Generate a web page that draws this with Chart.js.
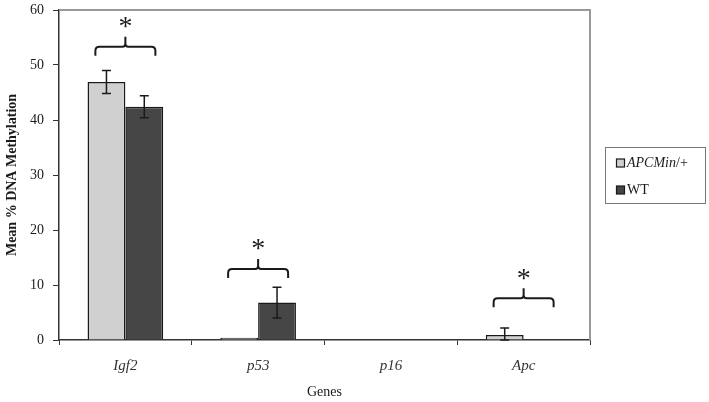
<!DOCTYPE html>
<html>
<head>
<meta charset="utf-8">
<script src="https://cdn.jsdelivr.net/npm/chart.js@4.4.1/dist/chart.umd.min.js"></script>
<style>
  html, body { margin: 0; padding: 0; background: #fff; }
  #wrap { position: relative; width: 709px; height: 402px; }
</style>
</head>
<body>
<div id="wrap"><canvas id="chart" width="709" height="402"></canvas></div>
<script>
// данные
const genes = ['Igf2', 'p53', 'p16', 'Apc'];
const apcMinValues = [46.9, 0.4, 0, 0.9];
const apcMinErrors = [2.1, 0, 0, 1.3];
const wtValues = [42.4, 6.8, 0, 0];
const wtErrors = [2.0, 2.8, 0, 0];
const yTicks = [0, 10, 20, 30, 40, 50, 60];

// скобки значимости: индекс гена и уровень скобки
const bracketGenes = [0, 1, 3];
const bracketLevels = [53.3, 12.9, 7.6];

const serif = '"Liberation Serif", "DejaVu Serif", serif';
const ink = '#1a1a1a';

// усы ошибок
const errorBars = {
  id: 'errorBars',
  afterDatasetsDraw(chart) {
    const ctx = chart.ctx;
    const y = chart.scales.y;
    ctx.save();
    ctx.strokeStyle = ink;
    ctx.lineWidth = 1.5;
    chart.data.datasets.forEach((ds, di) => {
      const meta = chart.getDatasetMeta(di);
      meta.data.forEach((bar, i) => {
        const err = ds.errors[i];
        if (!err) return;
        const v = ds.data[i];
        const top = y.getPixelForValue(v + err);
        const bot = y.getPixelForValue(Math.max(0, v - err));
        ctx.beginPath();
        ctx.moveTo(bar.x, top); ctx.lineTo(bar.x, bot);
        ctx.moveTo(bar.x - 4.5, top); ctx.lineTo(bar.x + 4.5, top);
        ctx.moveTo(bar.x - 4.5, bot); ctx.lineTo(bar.x + 4.5, bot);
        ctx.stroke();
      });
    });
    ctx.restore();
  }
};

// фигурные скобки со звёздочкой
const brackets = {
  id: 'brackets',
  afterDatasetsDraw(chart) {
    const ctx = chart.ctx;
    const x = chart.scales.x;
    const y = chart.scales.y;
    const half = 30;
    ctx.save();
    ctx.strokeStyle = ink;
    ctx.lineWidth = 2;
    bracketGenes.forEach((g, k) => {
      const cx = x.getPixelForValue(g);
      const ly = y.getPixelForValue(bracketLevels[k]);
      const drop = 9, tip = 10, r = 4;
      ctx.beginPath();
      ctx.moveTo(cx - half, ly + drop);
      ctx.lineTo(cx - half, ly + r);
      ctx.quadraticCurveTo(cx - half, ly, cx - half + r, ly);
      ctx.lineTo(cx - 3, ly);
      ctx.quadraticCurveTo(cx, ly, cx, ly - 3);
      ctx.lineTo(cx, ly - tip);
      ctx.moveTo(cx, ly - 3);
      ctx.quadraticCurveTo(cx, ly, cx + 3, ly);
      ctx.lineTo(cx + half - r, ly);
      ctx.quadraticCurveTo(cx + half, ly, cx + half, ly + r);
      ctx.lineTo(cx + half, ly + drop);
      ctx.stroke();
      ctx.fillStyle = ink;
      ctx.font = '28px ' + serif;
      ctx.textAlign = 'center';
      ctx.textBaseline = 'middle';
      ctx.fillText('*', cx, ly - tip - 9);
    });
    ctx.restore();
  }
};

// серая рамка сверху и справа + легенда в рамке
const frameAndLegend = {
  id: 'frameAndLegend',
  afterDraw(chart) {
    const ctx = chart.ctx;
    const a = chart.chartArea;
    ctx.save();
    ctx.strokeStyle = '#999';
    ctx.lineWidth = 2;
    ctx.beginPath();
    ctx.moveTo(a.left, a.top); ctx.lineTo(a.right, a.top); ctx.lineTo(a.right, a.bottom);
    ctx.stroke();

    const bx = 605.5, by = 147.5, bw = 100, bh = 56;
    ctx.strokeStyle = '#777';
    ctx.lineWidth = 1;
    ctx.strokeRect(bx, by, bw, bh);

    ctx.textBaseline = 'middle';
    chart.data.datasets.forEach((ds, i) => {
      const yy = 163 + i * 27;
      ctx.fillStyle = ds.backgroundColor;
      ctx.fillRect(616.5, yy - 4, 8, 8);
      ctx.strokeStyle = ink;
      ctx.lineWidth = 1.2;
      ctx.strokeRect(616.5, yy - 4, 8, 8);
      ctx.fillStyle = ink;
      const parts = ds.label.split('/');
      let tx = 627;
      ctx.font = (parts.length > 1 ? 'italic ' : '') + '14px ' + serif;
      ctx.fillText(parts[0], tx, yy);
      if (parts.length > 1) {
        tx += ctx.measureText(parts[0]).width;
        ctx.font = '14px ' + serif;
        ctx.fillText('/' + parts[1], tx, yy);
      }
    });
    ctx.restore();
  }
};

new Chart(document.getElementById('chart'), {
  type: 'bar',
  data: {
    labels: genes,
    datasets: [
      {
        label: 'APCMin/+',
        data: apcMinValues,
        errors: apcMinErrors,
        backgroundColor: '#d0d0d0',
        borderColor: ink,
        borderWidth: 1.5
      },
      {
        label: 'WT',
        data: wtValues,
        errors: wtErrors,
        backgroundColor: '#464646',
        borderColor: ink,
        borderWidth: 1.5
      }
    ]
  },
  options: {
    responsive: false,
    animation: false,
    devicePixelRatio: 1,
    layout: { padding: { top: 10, right: 119, left: 0, bottom: 0 } },
    datasets: { bar: { categoryPercentage: 0.57, barPercentage: 1.0 } },
    plugins: {
      legend: { display: false },
      tooltip: { enabled: false }
    },
    scales: {
      x: {
        afterFit(scale) { scale.height = 62; },
        grid: { offset: true, drawOnChartArea: false, tickLength: 5, color: '#333', lineWidth: 1 },
        border: { color: '#333', width: 1.5 },
        ticks: {
          padding: 12,
          color: '#333',
          font: { family: serif, size: 15, style: 'italic' }
        },
        title: {
          display: true,
          text: 'Genes',
          color: ink,
          padding: { top: 0, bottom: 1 },
          font: { family: serif, size: 14 }
        }
      },
      y: {
        min: 0,
        max: 60,
        afterFit(scale) {
          scale.width = 59;
          scale.paddingTop = 0;
          scale.paddingBottom = 0;
        },
        afterBuildTicks(scale) { scale.ticks = yTicks.map(v => ({ value: v })); },
        grid: { drawOnChartArea: false, tickLength: 6, color: '#333', lineWidth: 1 },
        border: { color: '#333', width: 1.5 },
        ticks: {
          padding: 9,
          color: ink,
          font: { family: serif, size: 14 }
        },
        title: {
          display: true,
          text: 'Mean % DNA Methylation',
          color: ink,
          padding: { top: 4, bottom: 0 },
          font: { family: serif, size: 14, weight: 'bold' }
        }
      }
    }
  },
  plugins: [errorBars, brackets, frameAndLegend]
});
</script>
</body>
</html>
